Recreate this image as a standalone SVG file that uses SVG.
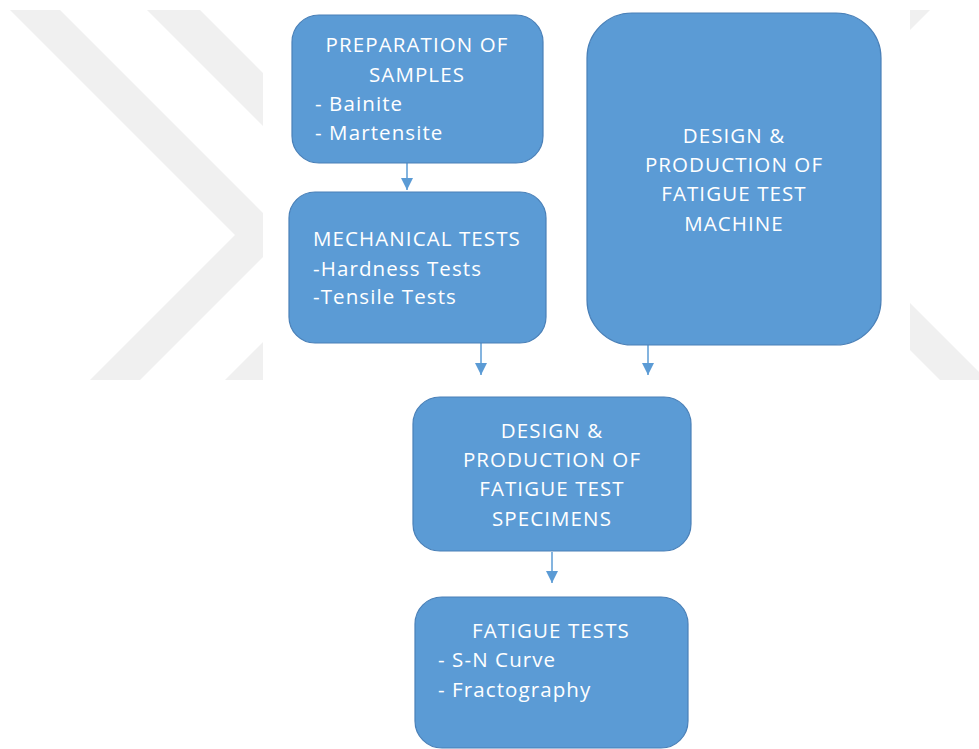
<svg xmlns="http://www.w3.org/2000/svg" width="979" height="749" viewBox="0 0 979 749">
<style>
.wm{fill:#f0f0f0}
.box{fill:#5b9bd5;stroke:#4a80b8;stroke-width:1.2}
.t{font-family:"Open Sans","Noto Sans",sans-serif;font-size:20.5px;fill:#ffffff;letter-spacing:1.1px}
.c{text-anchor:middle}
.conn line{stroke:#5b9bd5;stroke-width:1.5}
</style>
<defs>
<marker id="ah" viewBox="0 0 12 12" refX="12" refY="6" markerWidth="12" markerHeight="12" markerUnits="userSpaceOnUse" orient="auto">
<path d="M0,0 L12,6 L0,12 Z" fill="#5b9bd5"/>
</marker>
<clipPath id="wl"><rect x="0" y="10" width="263" height="370"/></clipPath>
</defs>
<rect width="979" height="749" fill="#ffffff"/>
<g id="watermark">
<g clip-path="url(#wl)">
<polygon class="wm" points="10,10 60,10 285,235 140,380 90,380 235,235"/>
<polygon class="wm" points="147,10 200,10 424,234 278,380 225,380 371,234"/>
</g>
<polygon class="wm" points="910,303 979,372 979,380 940,380 910,350"/>
<polygon class="wm" points="910,10 930,10 910,30"/>
</g>
<g id="connectors" class="conn">
<line x1="407" y1="163" x2="407" y2="190" marker-end="url(#ah)"/>
<line x1="481" y1="343" x2="481" y2="375" marker-end="url(#ah)"/>
<line x1="648" y1="345" x2="648" y2="375" marker-end="url(#ah)"/>
<line x1="552" y1="552" x2="552" y2="583" marker-end="url(#ah)"/>
</g>
<g id="prep">
<rect class="box" x="292" y="15" width="251" height="148" rx="27"/>
<text class="t c" x="417" y="52">PREPARATION OF</text>
<text class="t c" x="417" y="81.5">SAMPLES</text>
<text class="t" x="315" y="110.5">- Bainite</text>
<text class="t" x="315" y="140">- Martensite</text>
</g>
<g id="mech">
<rect class="box" x="289" y="192" width="257" height="151" rx="26"/>
<text class="t" x="313" y="245.5">MECHANICAL TESTS</text>
<text class="t" x="313" y="275.5">-Hardness Tests</text>
<text class="t" x="313" y="304">-Tensile Tests</text>
</g>
<g id="machine">
<rect class="box" x="587" y="13" width="294" height="332" rx="45"/>
<text class="t c" x="734" y="142.5">DESIGN &amp;</text>
<text class="t c" x="734" y="172">PRODUCTION OF</text>
<text class="t c" x="734" y="201">FATIGUE TEST</text>
<text class="t c" x="734" y="230.5">MACHINE</text>
</g>
<g id="specimens">
<rect class="box" x="413" y="397" width="278" height="154" rx="27"/>
<text class="t c" x="552" y="437.5">DESIGN &amp;</text>
<text class="t c" x="552" y="467">PRODUCTION OF</text>
<text class="t c" x="552" y="496">FATIGUE TEST</text>
<text class="t c" x="552" y="525.5">SPECIMENS</text>
</g>
<g id="fatigue">
<rect class="box" x="415" y="597" width="273" height="151" rx="27"/>
<text class="t c" x="551" y="637.5">FATIGUE TESTS</text>
<text class="t" x="438" y="667">- S-N Curve</text>
<text class="t" x="438" y="696.5">- Fractography</text>
</g>
</svg>
